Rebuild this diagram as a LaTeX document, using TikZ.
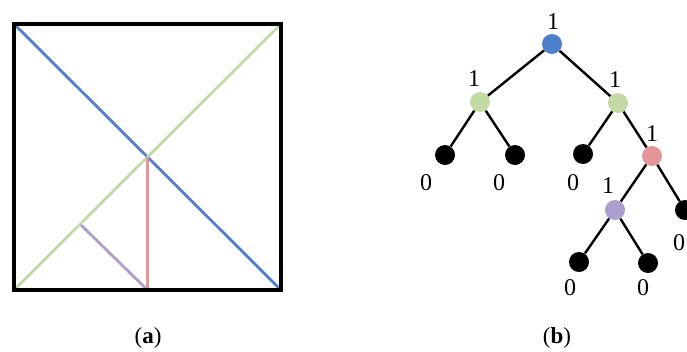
\documentclass[tikz,border=0pt]{standalone}
\usepackage{fontspec}
\setmainfont{Liberation Serif}
\definecolor{cblue}{RGB}{78,128,205}
\definecolor{cgreen}{RGB}{196,218,164}
\definecolor{cred}{RGB}{226,150,152}
\definecolor{cpurple}{RGB}{172,158,206}
\tikzset{
  tn/.style={circle,inner sep=0pt,minimum size=20pt},
  leaf/.style={tn,fill=black},
  lab/.style={inner sep=0pt,font=\fontsize{24}{24}\selectfont},
  edge/.style={line width=2.4pt,black},
  aline/.style={line width=2.8pt},
  captext/.style={inner sep=0pt,font=\fontsize{23}{23}\selectfont},
}
\begin{document}
\begin{tikzpicture}[x=1pt,y=-1pt]
\useasboundingbox (0,0) rectangle (687,351);
% panel (a)
\coordinate (TL) at (14,24);
\coordinate (TR) at (281,24);
\coordinate (BL) at (14,290);
\coordinate (BR) at (281,290);
\coordinate (C) at (147.5,157);
\coordinate (Cb) at (147.5,290);
\coordinate (P) at (81,225);
\draw[cblue,aline] (TL) -- (BR);
\draw[cgreen,aline] (BL) -- (TR);
\draw[cred,aline] (C) -- (Cb);
\draw[cpurple,aline] (P) -- (Cb);
\draw[black,line width=3.2pt] (TL) rectangle (BR);
% panel (b)
\node[tn,fill=cblue] (r) at (552,44) {};
\node[tn,fill=cgreen] (l) at (480,102) {};
\node[tn,fill=cgreen] (rr) at (618,103) {};
\node[leaf] (ll1) at (445,155) {};
\node[leaf] (ll2) at (515,155) {};
\node[leaf] (rl) at (583,154) {};
\node[tn,fill=cred] (red) at (652,156) {};
\node[tn,fill=cpurple] (pu) at (615,210) {};
\node[leaf] (rd) at (685,210) {};
\node[leaf] (p1) at (579,262) {};
\node[leaf] (p2) at (648,263) {};
\draw[edge] (r) -- (l);
\draw[edge] (r) -- (rr);
\draw[edge] (l) -- (ll1);
\draw[edge] (l) -- (ll2);
\draw[edge] (rr) -- (rl);
\draw[edge] (rr) -- (red);
\draw[edge] (red) -- (pu);
\draw[edge] (red) -- (rd);
\draw[edge] (pu) -- (p1);
\draw[edge] (pu) -- (p2);
\node[lab] (t1) at (553,22) {1};
\node[lab] (t2) at (474,79) {1};
\node[lab] (t3) at (615,80) {1};
\node[lab] (t4) at (652,134) {1};
\node[lab] (t5) at (608,186) {1};
\node[lab] (z1) at (426,183) {0};
\node[lab] (z2) at (499,183) {0};
\node[lab] (z3) at (573,183) {0};
\node[lab] (z4) at (679,243) {0};
\node[lab] (z5) at (570,288) {0};
\node[lab] (z6) at (643,288) {0};
% captions
\node[captext] (ca) at (148,338) {(\textbf{a})};
\node[captext] (cb) at (557,338) {(\textbf{b})};
\end{tikzpicture}
\end{document}
